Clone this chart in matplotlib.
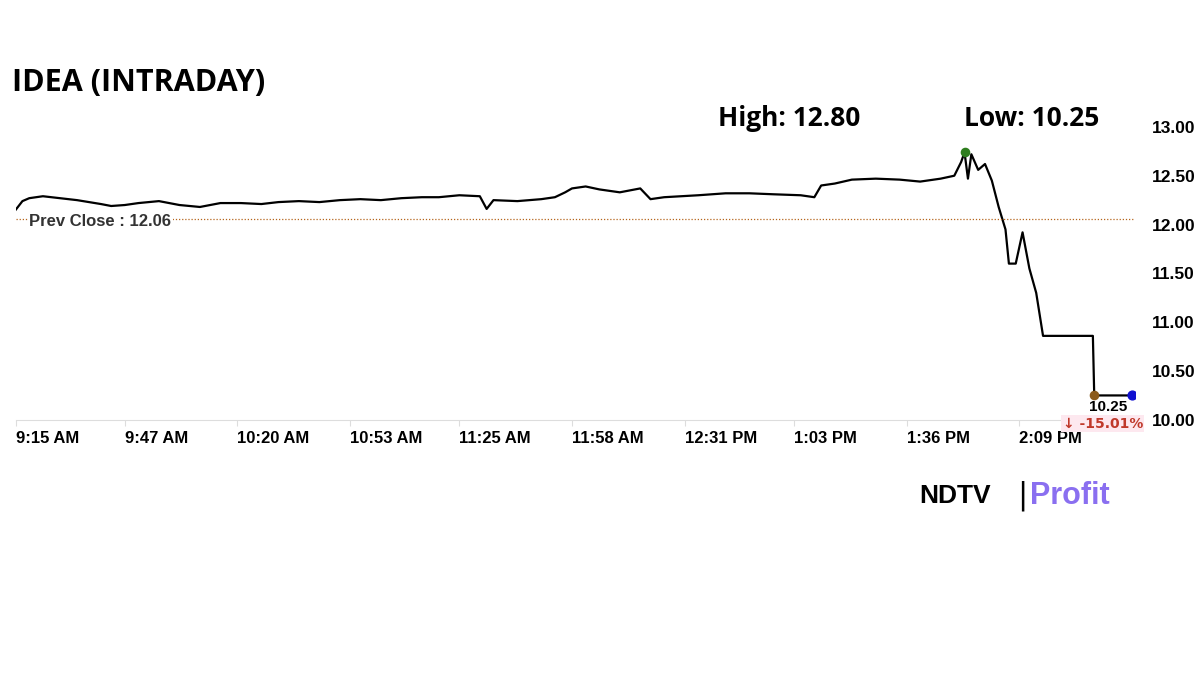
import matplotlib
matplotlib.use("Agg")
import matplotlib.pyplot as plt

# minutes since 9:15 AM, price
minutes = [0, 2, 4, 8, 13, 18, 25, 28, 32, 36, 42, 48, 54, 60, 66, 72, 77, 83, 89, 95, 101, 107, 113, 119, 124, 130, 136, 138, 140, 147, 154, 158, 161, 163, 167, 171, 177, 183, 186, 190, 200, 208, 215, 222, 230, 234, 236, 240, 245, 252, 259, 265, 271, 275, 277, 278, 279, 280, 282, 284, 286, 288, 290, 291, 293, 295, 297, 299, 301, 315.6, 316, 327]
prices = [12.15, 12.24, 12.27, 12.29, 12.27, 12.25, 12.21, 12.19, 12.20, 12.22, 12.24, 12.20, 12.18, 12.22, 12.22, 12.21, 12.23, 12.24, 12.23, 12.25, 12.26, 12.25, 12.27, 12.28, 12.28, 12.30, 12.29, 12.16, 12.25, 12.24, 12.26, 12.28, 12.33, 12.37, 12.39, 12.36, 12.33, 12.37, 12.26, 12.28, 12.30, 12.32, 12.32, 12.31, 12.30, 12.28, 12.40, 12.42, 12.46, 12.47, 12.46, 12.44, 12.47, 12.50, 12.64, 12.74, 12.47, 12.72, 12.56, 12.62, 12.45, 12.18, 11.95, 11.60, 11.60, 11.92, 11.55, 11.30, 10.86, 10.86, 10.25, 10.25]

tick_pos = [0, 32, 65, 98, 130, 163, 196, 228, 261, 294]
tick_labels = ["9:15 AM", "9:47 AM", "10:20 AM", "10:53 AM", "11:25 AM", "11:58 AM", "12:31 PM", "1:03 PM", "1:36 PM", "2:09 PM"]
y_ticks = [10.0, 10.5, 11.0, 11.5, 12.0, 12.5, 13.0]
prev_close = 12.06
high, low = 12.80, 10.25

fig = plt.figure(figsize=(12, 6.75), dpi=100)
ax = fig.add_axes([0.013, 0.378, 0.933, 0.434])
ax.plot(minutes, prices, color="black", lw=1.6)
ax.axhline(prev_close, color="#b5651d", lw=0.9, ls=(0, (1, 1.5)))
ax.set_xlim(0, 328)
ax.set_ylim(10, 13)
for s in ["top", "left", "right"]:
    ax.spines[s].set_visible(False)
ax.spines["bottom"].set_color("#dddddd")
ax.set_xticks(tick_pos)
ax.set_xticklabels(tick_labels, ha="left", fontsize=12, fontweight="bold", family="Liberation Sans")
ax.tick_params(axis="x", length=4, color="#dddddd", pad=4)
ax.yaxis.tick_right()
ax.set_yticks(y_ticks)
ax.set_yticklabels([f"{v:.2f}" for v in y_ticks], fontsize=12.5, fontweight="bold", family="Liberation Sans")
ax.tick_params(axis="y", length=0, pad=12)

ax.scatter([278], [12.74], color="#2e7d1e", s=35, zorder=5)
ax.scatter([316], [10.25], color="#8b5a1b", s=35, zorder=5)
ax.scatter([327], [10.25], color="#1010d0", s=40, zorder=5)
ax.text(4, prev_close - 0.03, "Prev Close : 12.06", fontsize=12, fontweight="bold", color="#333333",
        family="Liberation Sans", va="center", bbox=dict(fc="white", ec="none", pad=1))
ax.text(320, 10.13, "10.25", fontsize=11, fontweight="bold", ha="center", va="center", family="Liberation Sans")
ax.text(318.5, 9.96, "↓ -15.01%", fontsize=10, fontweight="bold", color="#c0392b", ha="center", va="center",
        family="DejaVu Sans", bbox=dict(fc="#fde8ef", ec="none", pad=1))

fig.text(0.01, 0.877, "IDEA (INTRADAY)", fontsize=22, fontweight="bold", family="Open Sans", va="center")
fig.text(0.598, 0.825, f"High: {high:.2f}", fontsize=19, fontweight="bold", family="Open Sans", va="center")
fig.text(0.803, 0.825, f"Low: {low:.2f}", fontsize=19, fontweight="bold", family="Open Sans", va="center")
fig.text(0.766, 0.265, "NDTV", fontsize=19, fontweight="heavy", family="Liberation Sans", va="center")
fig.text(0.848, 0.265, "|", fontsize=22, family="DejaVu Sans", va="center")
fig.text(0.858, 0.265, "Profit", fontsize=22, fontweight="bold", color="#8a6ff0", family="Liberation Sans", va="center")

fig.savefig("out.png", dpi=100, facecolor="white")
